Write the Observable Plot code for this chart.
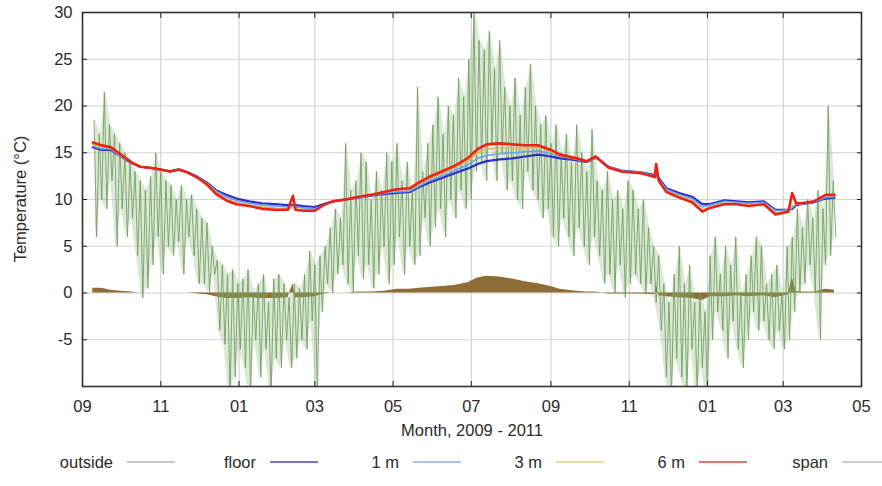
<!DOCTYPE html>
<html>
<head>
<meta charset="utf-8">
<script src="https://cdn.jsdelivr.net/npm/d3@7"></script>
<script src="https://cdn.jsdelivr.net/npm/@observablehq/plot@0.6"></script>
<style>
  body { margin: 0; background: #fff; }
  #chart { position: relative; width: 882px; height: 486px; font-family: "Liberation Sans", Arial, sans-serif; }
  #legend { position: absolute; left: 0; top: 448px; }
  #ytitle { position: absolute; left: 20px; top: 199px; transform: translate(-50%, -50%) rotate(-90deg); white-space: nowrap; font-size: 16.5px; color: #2a2a2a; }
</style>
</head>
<body>
<div id="chart"><div id="ytitle">Temperature (°C)</div></div>
<script>
// Time origin: day 0 = 1 Sep 2009
const originYear = 2009, originMonth = 8;
const endYear = 2011, endMonth = 4;

// Indoor sensor readings (°C) at the listed day numbers
const indoorDay = [8, 15, 22, 30, 38, 45, 52, 61, 68, 75, 82, 90, 97, 104, 112, 120, 130, 140, 150, 160, 164, 166, 172, 181, 188, 195, 205, 215, 225, 235, 245, 255, 262, 270, 280, 290, 300, 308, 315, 325, 335, 345, 355, 365, 372, 385, 393, 400, 410, 420, 435, 446, 447, 449, 455, 465, 475, 483, 489, 500, 510, 519, 531, 540, 550, 553, 556, 560, 570, 579, 586];
const floorTemp = [15.6, 15.3, 15.3, 14.6, 13.9, 13.5, 13.4, 13.2, 13.0, 13.2, 12.9, 12.4, 11.8, 11.0, 10.5, 10.1, 9.8, 9.6, 9.5, 9.4, 9.4, 9.4, 9.3, 9.2, 9.5, 9.8, 10.0, 10.2, 10.4, 10.6, 10.7, 10.8, 11.3, 11.8, 12.3, 12.8, 13.3, 13.8, 14.1, 14.3, 14.4, 14.6, 14.8, 14.6, 14.4, 14.2, 14.0, 14.5, 13.5, 13.1, 12.9, 12.6, 12.6, 12.3, 11.2, 10.7, 10.3, 9.5, 9.5, 9.9, 9.8, 9.7, 9.8, 8.9, 8.9, 9.0, 9.4, 9.5, 9.7, 10.1, 10.2];
const oneMTemp = [15.7, 15.4, 15.4, 14.6, 13.9, 13.5, 13.4, 13.2, 13.0, 13.2, 12.9, 12.4, 11.7, 10.9, 10.3, 9.9, 9.6, 9.4, 9.3, 9.2, 9.3, 9.2, 9.1, 9.0, 9.4, 9.8, 10.0, 10.2, 10.4, 10.7, 10.8, 10.9, 11.4, 12.0, 12.5, 13.1, 13.7, 14.4, 14.7, 14.9, 15.0, 15.1, 15.2, 14.9, 14.6, 14.3, 14.0, 14.5, 13.5, 13.1, 12.9, 12.5, 12.6, 12.2, 11.1, 10.5, 10.1, 9.2, 9.4, 9.8, 9.7, 9.6, 9.7, 8.8, 8.9, 9.1, 9.5, 9.5, 9.7, 10.2, 10.3];
const threeMTemp = [15.9, 15.6, 15.5, 14.7, 14.0, 13.5, 13.4, 13.2, 13.0, 13.2, 12.9, 12.3, 11.7, 10.8, 10.1, 9.7, 9.4, 9.2, 9.1, 9.0, 9.2, 9.0, 8.9, 8.9, 9.4, 9.8, 10.0, 10.3, 10.5, 10.7, 11.0, 11.1, 11.6, 12.2, 12.8, 13.4, 14.1, 15.0, 15.4, 15.5, 15.5, 15.5, 15.6, 15.1, 14.7, 14.3, 14.1, 14.6, 13.4, 13.0, 12.8, 12.5, 12.8, 12.1, 10.9, 10.4, 9.9, 8.9, 9.2, 9.6, 9.6, 9.4, 9.6, 8.6, 8.8, 9.3, 9.5, 9.6, 9.8, 10.4, 10.4];
const sixMTemp = [16.1, 15.8, 15.6, 14.8, 14.0, 13.5, 13.4, 13.2, 13.0, 13.2, 12.9, 12.3, 11.6, 10.6, 9.9, 9.5, 9.3, 9.0, 8.9, 8.9, 10.4, 8.9, 8.8, 8.8, 9.4, 9.8, 10.0, 10.3, 10.5, 10.8, 11.1, 11.2, 11.8, 12.4, 13.0, 13.6, 14.4, 15.4, 15.9, 16.0, 15.9, 15.8, 15.8, 15.3, 14.8, 14.4, 14.1, 14.6, 13.4, 13.0, 12.8, 12.4, 13.8, 12.0, 10.8, 10.2, 9.7, 8.7, 9.1, 9.5, 9.5, 9.3, 9.5, 8.4, 8.7, 10.7, 9.6, 9.6, 9.8, 10.5, 10.5];

// Outside air: high and low of each 4-day block, first block starting on day 8
const outsideFirstDay = 8;
const outsideHigh = [18.5, 17, 21.5, 18, 17, 16, 15, 14, 13, 12, 11, 12.5, 15, 13, 12, 11.5, 10, 11.5, 10, 10.5, 9, 8, 7.5, 5, 3.5, 3, 2, 2.5, 1, 1.5, 2.5, 0, 1, 2, -1, 1.5, 2, 1, -0.5, 1, 0.5, 2, 4.5, 3, 4, 5, 7, 9, 8, 16, 11, 12, 15, 14, 10, 13, 11, 15, 14, 16, 12, 14, 11, 22, 13, 16, 18, 21, 17, 20, 19, 23, 21, 25, 30, 27, 26, 28, 24, 27, 22, 20, 23, 19, 22, 24.5, 20, 18, 19, 16, 18, 15, 17, 14, 18, 15, 13, 17.5, 12, 11, 13, 10, 11, 9, 12, 11, 9, 10, 7, 5, 4, 1, -1, 2, 5, 1, 3, -1, 0, -2, 4, 6, 2, 5, 3, 6, 0, 2, 4, 6, 5, 1, 2, 3, 0, 5, 6, 9, 7, 10, 8, 11, 9, 20, 12];
const outsideLow = [6, 10, 9, 12, 5, 9, 6, 8, 4, -0.5, 0.5, 3, 6, 2, 5, 4, 5.5, 2, 6, 4, 1, 1, 0, 2, -4, -5.5, -11, -9, -6, -8, -11, -5, -9, -6, -11, -7, -8, -5, -8, -7, -5, -6, -3, -11, -2, 1, 0, 2, 3, 1, 0, 4, 1.5, 3, 0.5, 2, 5, 1, 3, 6, 2, 5, 3, 4, 8, 5, 7, 9, 6, 10, 8, 11, 9, 10, 13, 14, 12, 16, 12, 15, 11, 12, 10, 9, 13, 11, 10, 8, 9, 6, 5, 8, 6, 4, 7, 5, 3, 6, 4, 1, 2, 0, 3, -0.5, 1, 2, 1, 0, 1, -1, -4, -9, -11, -7, -9, -11, -6, -11, -8, -11, -5, -2, -4, -7, -3, -6, -8, -5, -2, -4, -3, -5, -6, -4, -6, -5, -2, 0, 1, 3, 0, -5, 3, 4, 6];

// Axis ticks
const yTickValues = [-5, 0, 5, 10, 15, 20, 25, 30];
const yGridValues = [-5, 0, 5, 10, 15, 20, 25];

// Legend entries
const legendNames = ["outside", "floor", "1 m", "3 m", "6 m", "span"];
const legendColors = ["#b4b4b4", "#4b4bc4", "#8eaee6", "#dcd088", "#d84444", "#b6bcc8"];

const origin = new Date(Date.UTC(originYear, originMonth, 1));
const xEnd = new Date(Date.UTC(endYear, endMonth, 1));
const dayToDate = d => new Date(origin.getTime() + d * 864e5);

const indoor = indoorDay.map((d, i) => ({
  date: dayToDate(d),
  floor: floorTemp[i],
  m1: oneMTemp[i],
  m3: threeMTemp[i],
  m6: sixMTemp[i],
  span: sixMTemp[i] - floorTemp[i]
}));

// Outside samples: the high early in each block, the low late in it
const outside = [];
const outsideBlocks = [];
outsideHigh.forEach((hi, i) => {
  const d = outsideFirstDay + 4 * i;
  outside.push({date: dayToDate(d + 1), t: hi});
  outside.push({date: dayToDate(d + 3), t: outsideLow[i]});
  outsideBlocks.push({date: dayToDate(d + 2), hi, lo: outsideLow[i]});
});

const xTicks = d3.utcMonth.range(origin, new Date(xEnd.getTime() + 1), 2);
const font = "'Liberation Sans', Arial, sans-serif";
const fs = 16.5;

const chart = Plot.plot({
  width: 882,
  height: 445,
  marginLeft: 82,
  marginRight: 21,
  marginTop: 12,
  marginBottom: 59,
  style: {fontFamily: font, fontSize: fs + "px", color: "#2a2a2a", background: "#fff"},
  x: {type: "utc", domain: [origin, xEnd]},
  y: {domain: [-10, 30]},
  marks: [
    Plot.gridX(xTicks, {stroke: "#d4d4d4", strokeOpacity: 1, strokeWidth: 1.2}),
    Plot.gridY(yGridValues, {stroke: "#d4d4d4", strokeOpacity: 1, strokeWidth: 1.2}),
    Plot.areaY(indoor, {x: "date", y1: 0, y2: "span", fill: "#8e6c35", clip: true}),
    Plot.areaY(outsideBlocks, {x: "date", y1: "lo", y2: "hi", fill: "#8cb47c", fillOpacity: 0.3, clip: true}),
    Plot.line(outside, {x: "date", y: "t", stroke: "#6e9d5a", strokeWidth: 1, strokeOpacity: 0.85, clip: true}),
    Plot.line(indoor, {x: "date", y: "floor", stroke: "#2e2ec0", strokeWidth: 2.2}),
    Plot.line(indoor, {x: "date", y: "m1", stroke: "#62a2ee", strokeWidth: 1.6}),
    Plot.line(indoor, {x: "date", y: "m3", stroke: "#e2b45a", strokeWidth: 1.4}),
    Plot.line(indoor, {x: "date", y: "m6", stroke: "#ec2216", strokeWidth: 2.6}),
    Plot.frame({stroke: "#333", strokeWidth: 1.6}),
    Plot.axisX(xTicks, {anchor: "bottom", tickSize: -5, tickPadding: 19, tickFormat: d3.utcFormat("%m"), label: null, stroke: "#222"}),
    Plot.axisX(xTicks, {anchor: "top", tickSize: -5, tickFormat: () => "", label: null, stroke: "#222"}),
    Plot.axisY(yTickValues, {anchor: "left", tickSize: -5, tickPadding: 15, tickFormat: d => String(d), label: null, stroke: "#222"}),
    Plot.axisY(yTickValues, {anchor: "right", tickSize: -5, tickFormat: () => "", label: null, stroke: "#222"}),
    Plot.text(["Month, 2009 - 2011"], {frameAnchor: "bottom", dy: 49, fontSize: fs, fill: "#2a2a2a"})
  ]
});

const container = document.getElementById("chart");
container.appendChild(chart);

// Legend row below the plot
const legend = d3.select(container).append("svg")
  .attr("id", "legend")
  .attr("width", 882)
  .attr("height", 30)
  .style("font-family", font)
  .style("font-size", fs + "px");
legendNames.forEach((name, i) => {
  const x0 = 113 + 143 * i;
  legend.append("text")
    .attr("x", x0)
    .attr("y", 14)
    .attr("dy", "0.35em")
    .attr("text-anchor", "end")
    .attr("fill", "#2a2a2a")
    .text(name);
  legend.append("line")
    .attr("x1", x0 + 14)
    .attr("x2", x0 + 62)
    .attr("y1", 14)
    .attr("y2", 14)
    .attr("stroke", legendColors[i])
    .attr("stroke-width", 1.5);
});
</script>
</body>
</html>
